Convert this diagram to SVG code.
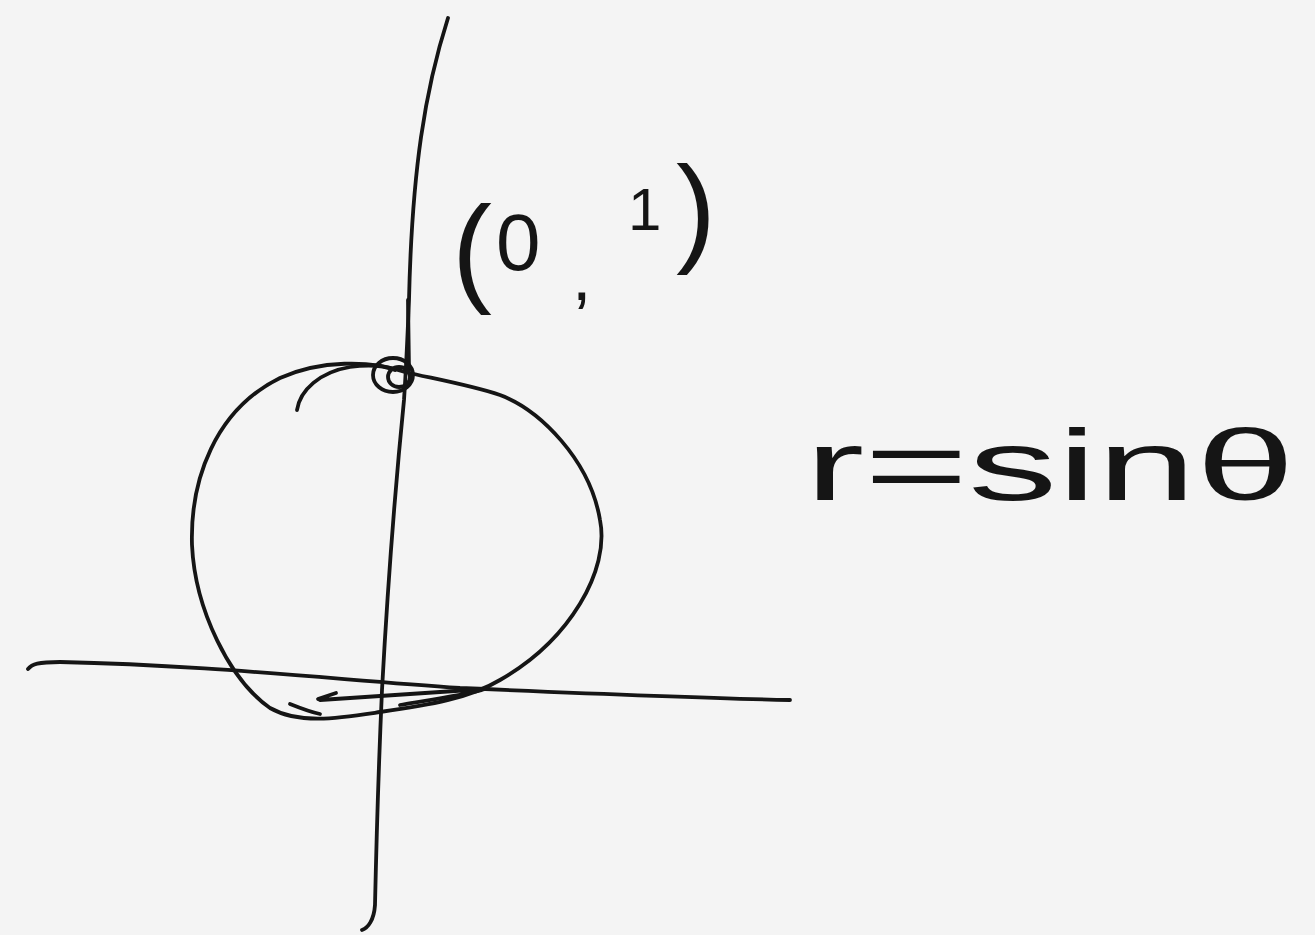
<svg xmlns="http://www.w3.org/2000/svg" width="1315" height="935" viewBox="0 0 1315 935">
<style>
.ink{fill:none;stroke:#151515;stroke-width:3.8;stroke-linecap:round;stroke-linejoin:round}
.hw{font-family:"Liberation Sans","DejaVu Sans",sans-serif;fill:#151515}
</style>
<rect width="1315" height="935" fill="#f4f4f4"/>
<g id="axes">
<path class="ink" d="M448,18 C425,90 412,170 409,300 C407,350 406,370 404,400 C396,480 388,580 382,690 C378,780 376,860 375,905 C374,920 368,928 362,930"/>
<path class="ink" d="M408,300 L409,370"/>
<path class="ink" d="M28,669 C32,664 38,662 60,662 C200,665 320,678 460,688 C600,694 700,698 790,700"/>
</g>
<g id="curve">
<path class="ink" d="M405,372 C370,360 320,360 280,378 C215,410 190,480 192,545 C195,610 230,680 270,708 C300,725 340,718 380,712 C430,705 470,698 500,680 C570,640 610,570 600,520 C590,460 540,410 500,395 C470,385 430,378 405,372"/>
<path class="ink" d="M297,410 C300,390 320,372 350,367 C370,364 385,366 395,370"/>
<ellipse class="ink" cx="393" cy="375" rx="20" ry="17"/>
<ellipse class="ink" cx="399" cy="377" rx="11" ry="10"/>
<path class="ink" d="M290,704 C300,708 310,712 320,714"/>
<path class="ink" d="M318,699 L336,693 M320,700 C380,696 440,692 485,689 C470,694 430,700 400,705"/>
</g>
<g id="label-point">
<text class="hw" font-size="120" x="452" y="290">(<tspan x="496" font-size="80" dy="-20">0</tspan><tspan x="572" font-size="70" dy="30">,</tspan><tspan x="628" font-size="60" dy="-70">1</tspan><tspan x="676" dy="20">)</tspan></text>
</g>
<g id="label-equation">
<text class="hw" font-size="100" x="805" y="500" textLength="490" lengthAdjust="spacingAndGlyphs">r=sinθ</text>
</g>
</svg>
